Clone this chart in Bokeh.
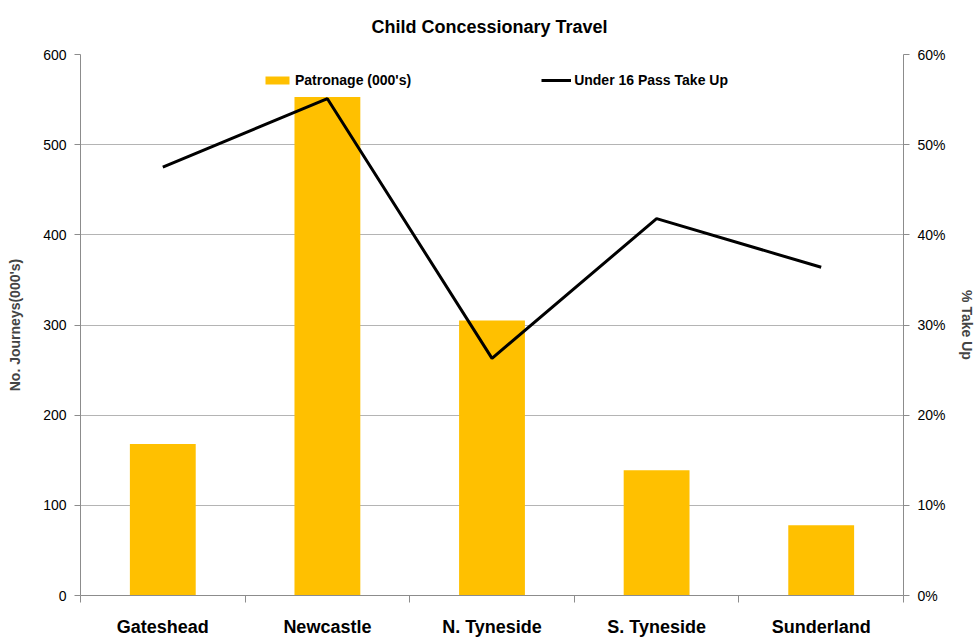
from bokeh.plotting import figure
from bokeh.models import (ColumnDataSource, Range1d, LinearAxis, FixedTicker,
                          NumeralTickFormatter, Legend, LegendItem)
from bokeh.embed import file_html
from bokeh.resources import INLINE

# Child concessionary travel by district
districts = ["Gateshead", "Newcastle", "N. Tyneside", "S. Tyneside", "Sunderland"]
patronage = [168, 553, 305, 139, 78]            # journeys, 000's
take_up = [0.475, 0.551, 0.263, 0.418, 0.364]  # under 16 pass take up

left_ticks = [0, 100, 200, 300, 400, 500, 600]
right_ticks = [0, 0.1, 0.2, 0.3, 0.4, 0.5, 0.6]

FONT = "Liberation Sans"
GOLD = "#FFC000"
GRID = "#b4b4b4"
AXIS = "#8c8c8c"

centers = [i + 0.5 for i in range(len(districts))]
bounds = [float(i) for i in range(len(districts) + 1)]

src = ColumnDataSource(dict(x=centers, name=districts, pat=patronage, pct=take_up))

p = figure(width=978, height=639, output_backend="svg", toolbar_location=None,
           x_range=Range1d(0, len(districts)), y_range=Range1d(0, 600),
           min_border_left=80, min_border_right=75, min_border_top=54,
           min_border_bottom=44, outline_line_color=None,
           title="Child Concessionary  Travel")

p.title.align = "center"
p.title.vertical_align = "top"
p.title.text_font = FONT
p.title.text_font_size = "18px"
p.title.text_font_style = "bold"
p.title.text_color = "black"
p.title.standoff = 32

p.extra_y_ranges = {"pct": Range1d(0, 0.6)}

bars = p.vbar(x="x", top="pat", width=0.4, source=src, color=GOLD, line_color=None)
line = p.line(x="x", y="pct", source=src, y_range_name="pct",
              line_color="black", line_width=3)

# bottom axis: names under each bar, tick marks between districts
xa = p.xaxis[0]
xa.ticker = FixedTicker(ticks=centers, minor_ticks=bounds)
xa.major_label_overrides = {c: n for c, n in zip(centers, districts)}
xa.major_tick_line_color = None
xa.major_tick_in = 0
xa.major_tick_out = 0
xa.minor_tick_in = 0
xa.minor_tick_out = 7
xa.minor_tick_line_color = AXIS
xa.axis_line_color = AXIS
xa.major_label_text_font = FONT
xa.major_label_text_font_style = "bold"
xa.major_label_text_font_size = "18px"
xa.major_label_text_color = "black"
xa.major_label_standoff = 14

ya = p.yaxis[0]
ya.ticker = FixedTicker(ticks=left_ticks)
ya.minor_tick_line_color = None
ya.major_tick_in = 0
ya.major_tick_out = 6
ya.major_tick_line_color = AXIS
ya.axis_line_color = AXIS
ya.major_label_text_font = FONT
ya.major_label_text_font_size = "14px"
ya.major_label_text_color = "black"
ya.major_label_standoff = 8
ya.axis_label = "No. Journeys(000's)"
ya.axis_label_text_font = FONT
ya.axis_label_text_font_style = "bold"
ya.axis_label_text_font_size = "14px"
ya.axis_label_standoff = 17

ra = LinearAxis(y_range_name="pct", ticker=FixedTicker(ticks=right_ticks),
                formatter=NumeralTickFormatter(format="0%"))
ra.minor_tick_line_color = None
ra.major_tick_in = 0
ra.major_tick_out = 6
ra.major_tick_line_color = AXIS
ra.axis_line_color = AXIS
ra.major_label_text_font = FONT
ra.major_label_text_font_size = "14px"
ra.major_label_text_color = "black"
ra.major_label_standoff = 8
ra.axis_label = "% Take Up"
ra.axis_label_text_font = FONT
ra.axis_label_text_font_style = "bold"
ra.axis_label_text_font_size = "14px"
ra.axis_label_standoff = 10
p.add_layout(ra, "right")

p.xgrid.grid_line_color = None
p.ygrid.grid_line_color = GRID
p.ygrid.ticker = FixedTicker(ticks=left_ticks)

legend = Legend(items=[LegendItem(label="Patronage (000's)", renderers=[bars]),
                       LegendItem(label="Under 16 Pass Take Up", renderers=[line])],
                orientation="horizontal", location=(182, 507),
                border_line_color=None, background_fill_alpha=0,
                padding=0, margin=0, spacing=130,
                glyph_width=30, glyph_height=10, label_standoff=3,
                label_text_font=FONT, label_text_font_style="bold",
                label_text_font_size="14px", label_text_color="black")
p.add_layout(legend, "center")

open("out.html", "w").write(file_html(p, INLINE))
